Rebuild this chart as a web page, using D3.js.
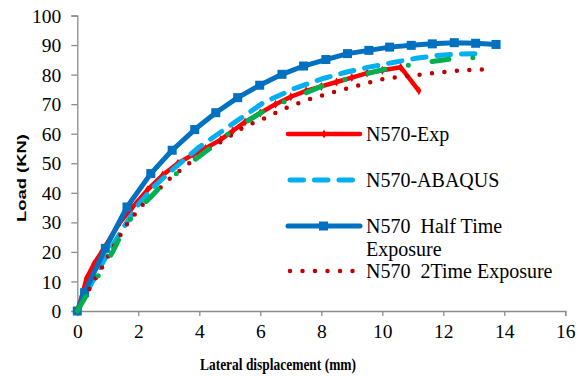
<!DOCTYPE html>
<html>
<head>
<meta charset="utf-8">
<script src="https://cdn.jsdelivr.net/npm/d3@7"></script>
<style>
  body { margin: 0; background: #fff; }
  text { font-family: "Liberation Serif", "Times New Roman", serif; }
</style>
</head>
<body>
<div id="chart"></div>
<script>
// values
const expX = [0, 0.15, 0.3, 0.55, 0.8, 1.1, 1.4, 1.8, 2.3, 2.8, 3.3, 3.8, 4.2, 4.7, 5.1, 5.5, 6.0, 6.5, 7.0, 7.5, 8.0, 8.5, 9.0, 9.5, 10.0, 10.6, 11.2];
const expY = [0, 5, 11, 16, 20, 25, 30, 35, 41, 46, 50, 53, 55, 58, 61, 64, 67, 70, 72.5, 74.5, 76, 77.5, 79, 80.5, 81.5, 82.5, 74.5];

const abaqusX = [0, 0.5, 1, 1.5, 2, 2.5, 3.1, 4.0, 5.1, 6.1, 7.1, 8.0, 8.8, 9.6, 10.4, 11.1, 11.8, 12.6, 13.3];
const abaqusY = [0, 10, 19.5, 28, 36, 42, 47.6, 55.5, 63.4, 70.5, 75.2, 78.5, 80.8, 82.6, 84.2, 85.5, 86.5, 87, 87.1];

const halfX = [0, 0.24, 0.92, 1.63, 2.41, 3.11, 3.85, 4.54, 5.26, 5.98, 6.71, 7.42, 8.15, 8.86, 9.56, 10.24, 10.95, 11.64, 12.36, 13.06, 13.73];
const halfY = [0, 6.2, 21.2, 35.2, 46.5, 54.4, 61.4, 67.1, 72.2, 76.4, 80.1, 82.9, 85.1, 87.1, 88.2, 89.3, 89.9, 90.4, 90.8, 90.6, 90.2];

const twoX = [0, 0.4, 0.8, 1.2, 1.6, 2.1, 2.6, 3.0, 3.6, 4.2, 4.9, 5.5, 6.1, 6.8, 7.5, 8.3, 9.1, 9.9, 10.7, 11.5, 12.3, 13.0, 13.6];
const twoY = [0, 7.5, 14.5, 22, 29, 35.5, 40.5, 44.5, 49.5, 54, 58.5, 62.5, 65, 68.5, 71.3, 73.8, 76, 78.3, 79.4, 80.3, 81.2, 81.6, 81.8];

// unlabelled green dash-dot series
const greenX = [0, 0.34, 0.73, 1.16, 1.43, 1.81, 2.46, 2.78, 3.38, 4.41, 5.17, 6.15, 7.07, 8.1, 9.13, 10.16, 11.26, 12.33, 13.43];
const greenY = [0, 6, 12.7, 20, 25.7, 32.2, 39.2, 42.6, 47.6, 55.5, 61.7, 67.9, 72.1, 76.4, 79.4, 82, 83.9, 85.4, 85.9];

const xTicks = [0, 2, 4, 6, 8, 10, 12, 14, 16];
const yTicks = [0, 10, 20, 30, 40, 50, 60, 70, 80, 90, 100];

const width = 587, height = 376;
const serif = "'Liberation Serif', 'Times New Roman', serif";
const svg = d3.select("#chart").append("svg")
  .attr("width", width)
  .attr("height", height);

const x = d3.scaleLinear().domain([0, 16]).range([77.3, 565.3]);
const y = d3.scaleLinear().domain([0, 100]).range([311, 15.5]);

const axisColor = "#8c8c8c";

// axes
const xAxis = svg.append("g")
  .attr("transform", "translate(0," + y(0) + ")")
  .call(d3.axisBottom(x).tickValues(xTicks).tickSize(5).tickPadding(8).tickFormat(d3.format("d")));
const yAxis = svg.append("g")
  .attr("transform", "translate(" + x(0) + ",0)")
  .call(d3.axisLeft(y).tickValues(yTicks).tickSize(6).tickPadding(10).tickFormat(d3.format("d")));

[xAxis, yAxis].forEach(g => {
  g.attr("font-family", serif);
  g.select(".domain").attr("stroke", axisColor).attr("stroke-width", 1.3);
  g.selectAll(".tick line").attr("stroke", axisColor).attr("stroke-width", 1.3);
  g.selectAll(".tick text")
    .attr("font-family", serif)
    .style("font-family", serif)
    .style("font-size", "19.5px")
    .attr("fill", "#000");
});
yAxis.selectAll(".tick text").attr("dy", "0.34em");

// axis titles
svg.append("text")
  .attr("transform", "translate(26,178) rotate(-90)")
  .attr("text-anchor", "middle")
  .attr("textLength", 88)
  .attr("lengthAdjust", "spacingAndGlyphs")
  .style("font-family", "'Liberation Sans', Arial, sans-serif")
  .style("font-weight", "bold")
  .style("font-size", "13px")
  .text("Load (KN)");

svg.append("text")
  .attr("x", 200)
  .attr("y", 370)
  .attr("textLength", 156)
  .attr("lengthAdjust", "spacingAndGlyphs")
  .style("font-family", serif)
  .style("font-weight", "bold")
  .style("font-size", "17px")
  .text("Lateral displacement (mm)");

// series
const line = d3.line().x(d => x(d[0])).y(d => y(d[1]));
const zip = (a, b) => a.map((v, i) => [v, b[i]]);

const series = [
  { name: "N570-Exp", pts: zip(expX, expY), color: "#ff0000", w: 4.5, dash: null, marker: "diamond" },
  { name: "N570-ABAQUS", pts: zip(abaqusX, abaqusY), color: "#00b0f0", w: 5, dash: "13.5 11", marker: null },
  { name: "N570  Half Time|Exposure", pts: zip(halfX, halfY), color: "#0070c0", w: 5, dash: null, marker: "square" },
  { name: "N570  2Time Exposure", pts: zip(twoX, twoY), color: "#c00000", w: 4.5, dash: "0 12.5", marker: null },
  { name: null, pts: zip(greenX, greenY), color: "#00b050", w: 5, dash: "17 24 0 24", marker: null }
];

const plot = svg.append("g");
series.forEach(s => {
  plot.append("path")
    .datum(s.pts)
    .attr("d", line)
    .attr("fill", "none")
    .attr("stroke", s.color)
    .attr("stroke-width", s.w)
    .attr("stroke-linecap", s.dash ? "round" : "butt")
    .attr("stroke-linejoin", "round")
    .attr("stroke-dasharray", s.dash);

  if (s.marker === "square") {
    plot.selectAll(null).data(s.pts).enter().append("rect")
      .attr("x", d => x(d[0]) - 4.5)
      .attr("y", d => y(d[1]) - 4.5)
      .attr("width", 9).attr("height", 9)
      .attr("fill", s.color);
  } else if (s.marker === "diamond") {
    plot.selectAll(null).data(s.pts).enter().append("path")
      .attr("d", d => {
        const cx = x(d[0]), cy = y(d[1]);
        return "M" + cx + "," + (cy - 4.5) + "L" + (cx + 2.5) + "," + cy + "L" + cx + "," + (cy + 4.5) + "L" + (cx - 2.5) + "," + cy + "Z";
      })
      .attr("fill", s.color);
  }
});

// legend
const legendRows = [134, 180, 226, 271];
const legend = svg.append("g");
series.filter(s => s.name).forEach((s, i) => {
  const ly = legendRows[i];
  legend.append("line")
    .attr("x1", s.dash ? 290 : 288).attr("x2", s.dash ? 357 : 360)
    .attr("y1", ly).attr("y2", ly)
    .attr("stroke", s.color)
    .attr("stroke-width", s.w)
    .attr("stroke-linecap", "round")
    .attr("stroke-dasharray", s.dash);
  if (s.marker === "square") {
    legend.append("rect").attr("x", 319).attr("y", ly - 4.5).attr("width", 9).attr("height", 9).attr("fill", s.color);
  } else if (s.marker === "diamond") {
    legend.append("path")
      .attr("d", "M324," + (ly - 4.5) + "L326.5," + ly + "L324," + (ly + 4.5) + "L321.5," + ly + "Z")
      .attr("fill", s.color);
  }
  const lines = s.name.split("|");
  lines.forEach((t, j) => {
    legend.append("text")
      .attr("x", 366)
      .attr("y", ly + 6.5 + j * 23)
      .attr("xml:space", "preserve")
      .style("white-space", "pre")
      .style("font-family", serif)
      .style("font-size", "20px")
      .text(t);
  });
});
</script>
</body>
</html>
